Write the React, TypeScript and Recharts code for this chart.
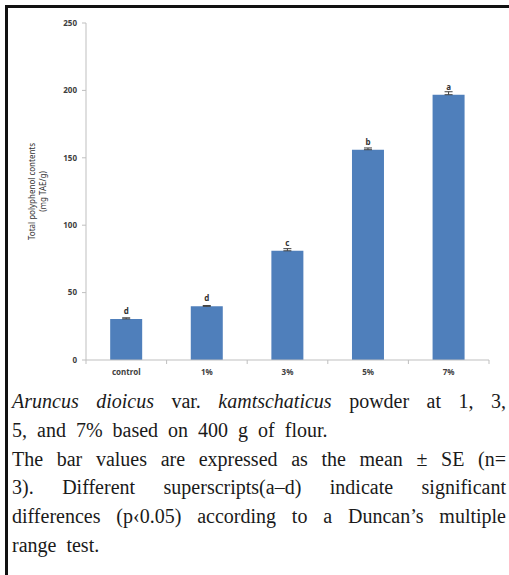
import React from 'react';
import { BarChart, Bar, XAxis, YAxis, ErrorBar, LabelList } from 'recharts';

const categories = ['control', '1%', '3%', '5%', '7%'];
const means = [30.5, 39.8, 81, 156, 196.8];
const errors = [0.8, 0.6, 1.6, 1.3, 2.2];
const letters = ['d', 'd', 'c', 'b', 'a'];
const yTicks = [0, 50, 100, 150, 200, 250];

const data = categories.map((name, i) => ({
  name,
  mean: means[i],
  err: [0, errors[i]],
  letter: letters[i],
}));

const axisGray = '#bfbfbf';
const labelFont = '"Noto Sans", "Open Sans", sans-serif';

const XTick = (props: any) => {
  const { x, y, payload, index } = props;
  const half = payload.offset ?? 40;
  return (
    <g>
      <line x1={x - half} x2={x - half} y1={y} y2={y + 4} stroke={axisGray} />
      {index === categories.length - 1 && (
        <line x1={x + half} x2={x + half} y1={y} y2={y + 4} stroke={axisGray} />
      )}
      <text
        x={x}
        y={y + 15}
        textAnchor="middle"
        fontSize={8}
        fontWeight="bold"
        fontFamily={labelFont}
        fill="#404040"
      >
        {payload.value}
      </text>
    </g>
  );
};

const YTitle = (props: any) => {
  const { viewBox } = props;
  const cy = viewBox.y + viewBox.height / 2;
  const x1 = viewBox.x + 31;
  const x2 = viewBox.x + 42;
  return (
    <g fontSize={8} fontFamily={labelFont} fill="#333">
      <text x={x1} y={cy} transform={`rotate(-90, ${x1}, ${cy})`} textAnchor="middle" dominantBaseline="central">
        Total polyphenol contents
      </text>
      <text x={x2} y={cy} transform={`rotate(-90, ${x2}, ${cy})`} textAnchor="middle" dominantBaseline="central">
        (mg TAE/g)
      </text>
    </g>
  );
};

const line: React.CSSProperties = { textAlign: 'justify', textAlignLast: 'justify' };

export default function App() {
  return (
    <div
      style={{
        position: 'absolute',
        left: 0,
        top: 0,
        width: 509,
        height: 575,
        background: '#fff',
        overflow: 'hidden',
      }}
    >
      <div
        style={{
          position: 'absolute',
          left: 5,
          top: 5,
          width: 520,
          height: 590,
          borderTop: '3px solid #111',
          borderLeft: '3px solid #111',
        }}
      />
      <div style={{ position: 'absolute', left: 0, top: 0 }}>
        <BarChart
          width={509}
          height={385}
          data={data}
          margin={{ top: 23, right: 20, left: 0, bottom: 0 }}
          barCategoryGap="30%"
        >
          <XAxis
            dataKey="name"
            height={25}
            stroke={axisGray}
            tickLine={false}
            tickSize={0}
            tickMargin={0}
            tick={<XTick />}
            interval={0}
          />
          <YAxis
            width={86}
            domain={[0, 250]}
            ticks={yTicks}
            interval={0}
            stroke={axisGray}
            tickSize={4}
            tickMargin={5}
            tick={{ fontSize: 8, fontWeight: 'bold', fill: '#404040', fontFamily: labelFont }}
            label={<YTitle />}
          />
          <Bar dataKey="mean" fill="#4f7fbb" isAnimationActive={false}>
            <ErrorBar dataKey="err" width={4} stroke="#404040" strokeWidth={1} direction="y" />
            <LabelList
              dataKey="letter"
              position="top"
              offset={5}
              fontSize={8}
              fontWeight="bold"
              fontFamily={labelFont}
              fill="#333"
            />
          </Bar>
        </BarChart>
      </div>
      <div
        style={{
          position: 'absolute',
          left: 12,
          top: 387,
          width: 494,
          fontFamily: '"Liberation Serif", serif',
          fontSize: 20,
          lineHeight: '28.8px',
          color: '#1a1a1a',
        }}
      >
        <div style={line}>
          <i>Aruncus dioicus</i> var. <i>kamtschaticus</i> powder at 1, 3,
        </div>
        <div style={{ wordSpacing: 5 }}>5, and 7% based on 400 g of flour.</div>
        <div style={line}>The bar values are expressed as the mean ± SE (n=</div>
        <div style={line}>3). Different superscripts(a–d) indicate significant</div>
        <div style={line}>differences (p‹0.05) according to a Duncan’s multiple</div>
        <div style={{ wordSpacing: 5 }}>range test.</div>
      </div>
    </div>
  );
}
